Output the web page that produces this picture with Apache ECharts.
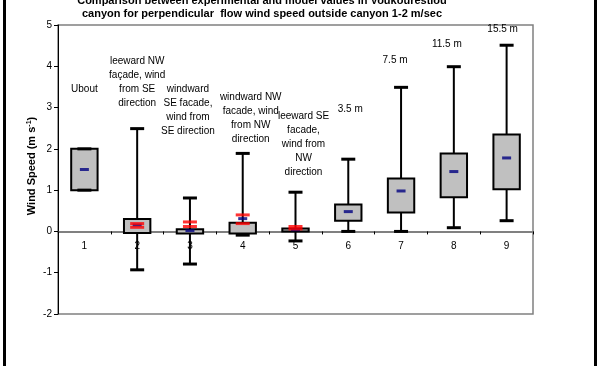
<!DOCTYPE html>
<html>
<head>
<meta charset="utf-8">
<script src="https://cdn.jsdelivr.net/npm/echarts@6/dist/echarts.min.js"></script>
<style>
html,body{margin:0;padding:0;background:#fff;}
#chart{width:600px;height:366px;}
</style>
</head>
<body>
<div id="chart"></div>
<script>
// ---- data ----
const categories = ['1', '2', '3', '4', '5', '6', '7', '8', '9'];
const whiskerLow  = [1.00, -0.93, -0.79, -0.09, -0.23, 0.00, 0.00, 0.09, 0.26];
const boxLow      = [1.00, -0.04, -0.05, -0.05, 0.00, 0.26, 0.46, 0.83, 1.02];
const boxHigh     = [2.00, 0.30, 0.05, 0.21, 0.07, 0.65, 1.28, 1.89, 2.35];
const whiskerHigh = [2.00, 2.49, 0.81, 1.89, 0.95, 1.75, 3.49, 3.99, 4.51];
const measuredMedian = [1.50, 0.155, 0.02, 0.31, 0.04, 0.48, 0.98, 1.45, 1.78];
const modelUpper = [null, 0.19, 0.23, 0.40, 0.12, null, null, null, null];
const modelLower = [null, 0.10, 0.12, 0.19, 0.06, null, null, null, null];
const annotationTexts = [
  'Ubout',
  'leeward NW\nfaçade, wind\nfrom SE\ndirection',
  'windward\nSE facade,\nwind from\nSE direction',
  'windward NW\nfacade, wind\nfrom NW\ndirection',
  'leeward SE\nfacade,\nwind from\nNW\ndirection',
  '3.5 m',
  '7.5 m',
  '11.5 m',
  '15.5 m'
];
const yTicks = { min: -2, max: 5, interval: 1 };
const titleLines = [
  'Comparison between experimental and model values in Voukourestiou',
  'canyon for perpendicular  flow wind speed outside canyon 1-2 m/sec'
];
const yAxisTitle = '{a|Wind Speed (m s}{b|-1}{a|)}';

// ---- chart ----
const FONT = '"Liberation Sans", Arial, sans-serif';
const chart = echarts.init(document.getElementById('chart'), null, { renderer: 'canvas' });

const boxData = categories.map((c, i) => [i, whiskerLow[i], boxLow[i], boxHigh[i], whiskerHigh[i]]);
const medianData = categories.map((c, i) => [i, measuredMedian[i]]);
const upperData = categories.map((c, i) => [i, modelUpper[i]]).filter(d => d[1] !== null);
const lowerData = categories.map((c, i) => [i, modelLower[i]]).filter(d => d[1] !== null);

// label placement: top of text block (data units) and small pixel nudges
const annotAnchor = [3.62, 4.30, 3.62, 3.41, 2.95, 3.12, 4.32, 4.71, 5.06];
const annotDx = [0, 0, -2, 8, 8, 2, -6, -7, -4];
const annotData = categories.map((c, i) => [i, annotAnchor[i]]);
const catLabelData = categories.map((c, i) => [i, 0]);

function renderBox(params, api) {
  const x = api.value(0);
  const pLo = api.coord([x, api.value(1)]);
  const pQ1 = api.coord([x, api.value(2)]);
  const pQ3 = api.coord([x, api.value(3)]);
  const pHi = api.coord([x, api.value(4)]);
  const band = api.size([1, 0])[0];
  const bw = band * 0.5;
  const cw = 14;
  const cx = pLo[0];
  return {
    type: 'group',
    children: [
      { type: 'line', shape: { x1: cx, y1: pHi[1], x2: cx, y2: pLo[1] }, style: { stroke: '#000', lineWidth: 2 } },
      { type: 'rect', shape: { x: cx - bw / 2, y: pQ3[1], width: bw, height: pQ1[1] - pQ3[1] },
        style: { fill: '#C0C0C0', stroke: '#000', lineWidth: 2 } },
      { type: 'line', shape: { x1: cx - cw / 2, y1: pHi[1], x2: cx + cw / 2, y2: pHi[1] },
        style: { stroke: '#000', lineWidth: 3 } },
      { type: 'line', shape: { x1: cx - cw / 2, y1: pLo[1], x2: cx + cw / 2, y2: pLo[1] },
        style: { stroke: '#000', lineWidth: 3 } }
    ]
  };
}

function renderAnnot(params, api) {
  const i = params.dataIndex;
  const p = api.coord([api.value(0), api.value(1)]);
  return {
    type: 'text',
    x: p[0] + annotDx[i],
    y: p[1],
    style: {
      text: annotationTexts[i],
      font: '10px ' + FONT,
      fill: '#000',
      align: 'center',
      verticalAlign: 'top',
      lineHeight: 14
    }
  };
}

function renderCatLabel(params, api) {
  const i = params.dataIndex;
  const p = api.coord([api.value(0), api.value(1)]);
  return {
    type: 'text',
    x: p[0],
    y: p[1] + 15,
    style: {
      text: categories[i],
      font: '10px ' + FONT,
      fill: '#000',
      align: 'center',
      verticalAlign: 'middle'
    }
  };
}

const option = {
  animation: false,
  backgroundColor: '#fff',
  textStyle: { fontFamily: FONT },
  grid: {
    left: 58, right: 67, top: 25, bottom: 52,
    show: true, borderColor: '#808080', borderWidth: 1.5, backgroundColor: 'transparent'
  },
  xAxis: {
    type: 'category',
    data: categories,
    boundaryGap: true,
    axisLine: { onZero: true, lineStyle: { color: '#808080', width: 2 } },
    axisTick: { show: true, length: 3, lineStyle: { color: '#000', width: 1 } },
    axisLabel: { show: false },
    splitLine: { show: false }
  },
  yAxis: {
    type: 'value',
    min: yTicks.min, max: yTicks.max, interval: yTicks.interval,
    axisLine: { show: true, lineStyle: { color: '#000', width: 1 } },
    axisTick: { show: true, length: 4, lineStyle: { color: '#000' } },
    axisLabel: { color: '#000', fontSize: 10, fontFamily: FONT, margin: 6 },
    splitLine: { show: false }
  },
  series: [
    { type: 'custom', renderItem: renderBox, data: boxData, encode: { x: 0, y: [1, 2, 3, 4] }, z: 2 },
    { type: 'scatter', data: medianData, symbol: 'rect', symbolSize: [9, 3], itemStyle: { color: '#000080' }, z: 3 },
    { type: 'scatter', data: upperData, symbol: 'rect', symbolSize: [14, 3], itemStyle: { color: '#FF0000' }, z: 4 },
    { type: 'scatter', data: lowerData, symbol: 'rect', symbolSize: [14, 3], itemStyle: { color: '#FF0000' }, z: 4 },
    { type: 'custom', renderItem: renderAnnot, data: annotData, clip: false, z: 5 },
    { type: 'custom', renderItem: renderCatLabel, data: catLabelData, clip: false, z: 5 }
  ],
  graphic: [
    { type: 'rect', shape: { x: 3, y: 0, width: 3, height: 366 }, style: { fill: '#000' } },
    { type: 'rect', shape: { x: 594, y: 0, width: 3, height: 366 }, style: { fill: '#000' } },
    { type: 'text', x: 262, y: 1, style: { text: titleLines[0], font: 'bold 11px ' + FONT, fill: '#000', textAlign: 'center', textVerticalAlign: 'middle' } },
    { type: 'text', x: 262, y: 14, style: { text: titleLines[1], font: 'bold 11px ' + FONT, fill: '#000', textAlign: 'center', textVerticalAlign: 'middle' } },
    {
      type: 'text', x: 32, y: 166, rotation: Math.PI / 2,
      style: {
        text: yAxisTitle,
        align: 'center',
        verticalAlign: 'middle',
        rich: {
          a: { fontSize: 11, fontWeight: 'bold', fill: '#000', fontFamily: FONT },
          b: { fontSize: 7, fontWeight: 'bold', fill: '#000', fontFamily: FONT, verticalAlign: 'top', padding: [0, 0, 6, 0] }
        }
      }
    }
  ]
};

chart.setOption(option);
</script>
</body>
</html>
